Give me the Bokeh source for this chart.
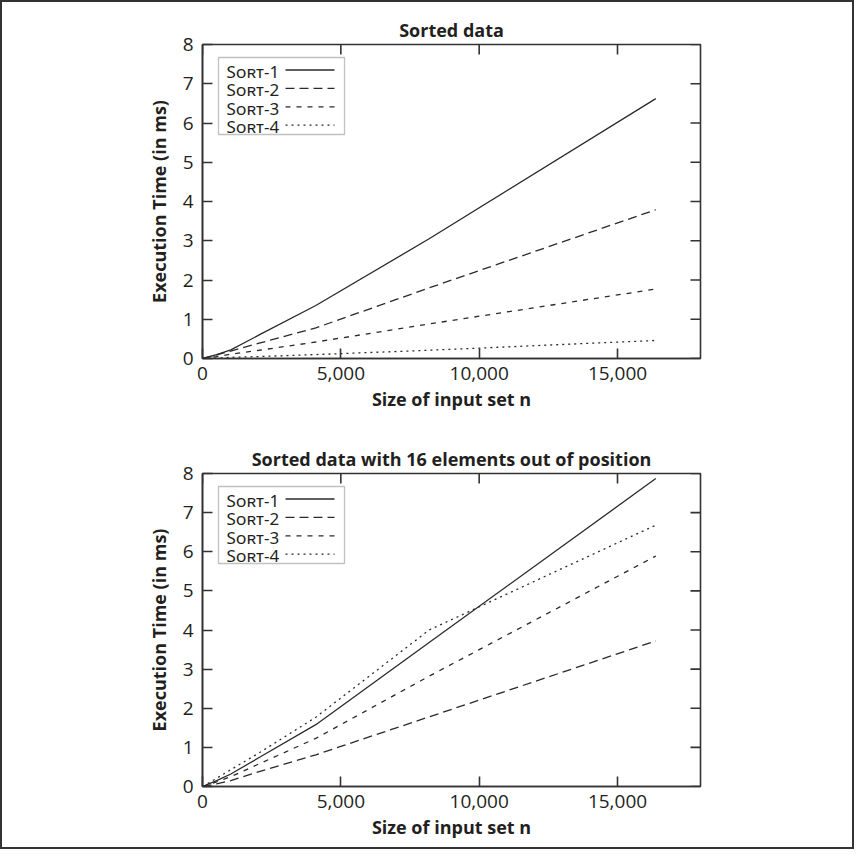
import math
from bokeh.plotting import figure
from bokeh.models import (FixedTicker, Range1d, BoxAnnotation, Label,
                          Arrow, NumeralTickFormatter, Div)
from bokeh.layouts import column, row
from bokeh.embed import file_html
from bokeh.resources import INLINE

# ---------------- data ----------------
n_values = [1, 512, 1024, 2048, 4096, 8192, 16384]
series_names = ["Sᴏʀᴛ-1", "Sᴏʀᴛ-2", "Sᴏʀᴛ-3", "Sᴏʀᴛ-4"]

title_top = "Sorted data"
top_sort1 = [0, 0.10, 0.22, 0.60, 1.35, 3.05, 6.62]
top_sort2 = [0, 0.09, 0.19, 0.39, 0.78, 1.80, 3.79]
top_sort3 = [0, 0.05, 0.11, 0.21, 0.42, 0.88, 1.77]
top_sort4 = [0, 0.01, 0.03, 0.05, 0.10, 0.21, 0.46]

title_bottom = "Sorted data with 16 elements out of position"
bot_sort1 = [0, 0.15, 0.32, 0.74, 1.58, 3.68, 7.87]
bot_sort2 = [0, 0.07, 0.15, 0.38, 0.81, 1.78, 3.72]
bot_sort3 = [0, 0.12, 0.25, 0.58, 1.23, 2.82, 5.89]
bot_sort4 = [0, 0.21, 0.43, 0.86, 1.77, 4.00, 6.68]

x_ticks = [0, 5000, 10000, 15000]
y_ticks = [0, 1, 2, 3, 4, 5, 6, 7, 8]
x_max = 18000
y_max = 8
x_label = "Size of input set n"
y_label = "Execution Time (in ms)"

# ---------------- styles ----------------
INK = "#231f20"
LINE = "#2a2a2a"
AX = "#333333"
dashes = ["solid", "9 5", "5 6", "2 4"]
TICK_FONT = "Open Sans"
BOLD_FONT = "Open Sans"
LEG_FONT = "Noto Sans"

W = 850
BL = 200
BR = 152
EDGE = 2


def make_plot(title, ys, height, top, bottom):
    p = figure(width=W, height=height, output_backend="svg", toolbar_location=None,
               x_range=Range1d(0, x_max), y_range=Range1d(0, y_max),
               min_border_left=BL, min_border_right=BR,
               min_border_top=top, min_border_bottom=bottom,
               background_fill_color="white", border_fill_color="white")
    fh = height - top - bottom
    p.grid.visible = False
    p.outline_line_color = AX
    p.outline_line_width = 1.6

    p.title.text = title
    p.title.align = "center"
    p.title.text_font = BOLD_FONT
    p.title.text_font_style = "bold"
    p.title.text_font_size = "18px"
    p.title.text_color = INK
    p.title.standoff = 6

    for ax in (p.xaxis[0], p.yaxis[0]):
        ax.major_tick_in = 10
        ax.major_tick_out = 0
        ax.minor_tick_line_color = None
        ax.axis_line_color = AX
        ax.axis_line_width = 1.6
        ax.major_tick_line_color = AX
        ax.major_tick_line_width = 1.6
        ax.major_label_text_font = TICK_FONT
        ax.major_label_text_font_size = "19px"
        ax.major_label_text_color = INK
        ax.axis_label_text_font = BOLD_FONT
        ax.axis_label_text_font_style = "bold"
        ax.axis_label_text_font_size = "18px"
        ax.axis_label_text_color = INK

    p.xaxis[0].ticker = FixedTicker(ticks=x_ticks)
    p.xaxis[0].formatter = NumeralTickFormatter(format="0,0")
    p.xaxis[0].major_label_standoff = 8
    p.xaxis[0].axis_label = x_label
    p.xaxis[0].axis_label_standoff = 4
    p.yaxis[0].ticker = FixedTicker(ticks=y_ticks)
    p.yaxis[0].major_label_standoff = 9
    p.yaxis[0].axis_label = y_label
    p.yaxis[0].axis_label_standoff = 9

    # mirrored ticks on the top and right edges of the frame
    p.ray(x=x_ticks, y=[y_max] * len(x_ticks), length=10, length_units="screen",
          angle=-math.pi / 2, line_color=AX, line_width=1.6)
    p.ray(x=[x_max] * len(y_ticks), y=y_ticks, length=10, length_units="screen",
          angle=math.pi, line_color=AX, line_width=1.6)

    for y, dash in zip(ys, dashes):
        p.line(n_values, y, line_color=LINE, line_width=1.3, line_dash=dash)

    # gnuplot-style key: label then sample, inside a box
    p.add_layout(BoxAnnotation(left=16, right=142, top=fh - 13, bottom=fh - 90,
                               left_units="screen", right_units="screen",
                               top_units="screen", bottom_units="screen",
                               fill_color="white", fill_alpha=1.0,
                               line_color=AX, line_width=1.3))
    for i, (name, dash) in enumerate(zip(series_names, dashes)):
        base = fh - 30 - i * 18.4
        p.add_layout(Label(x=24, y=base + 3, x_units="screen", y_units="screen",
                           text=name, text_font=LEG_FONT, text_font_size="17px",
                           text_color=INK, text_baseline="alphabetic"))
        p.add_layout(Arrow(x_start=83, y_start=base + 4.5, x_end=132, y_end=base + 4.5,
                           start_units="screen", end_units="screen",
                           start=None, end=None, line_color=LINE,
                           line_width=1.3, line_dash=dash))
    return p


H1, H2 = 420, 425
p1 = make_plot(title_top, [top_sort1, top_sort2, top_sort3, top_sort4], H1, 42, 64)
p2 = make_plot(title_bottom, [bot_sort1, bot_sort2, bot_sort3, bot_sort4], H2, 51, 61)


def edge(w, h):
    return Div(text="", width=w, height=h, margin=0,
               styles={"background-color": AX})


page = column(
    edge(W + 2 * EDGE, EDGE),
    row(edge(EDGE, H1 + H2), column(p1, p2, spacing=0), edge(EDGE, H1 + H2), spacing=0),
    edge(W + 2 * EDGE, EDGE),
    spacing=0,
)

open("out.html", "w").write(file_html(page, INLINE))
